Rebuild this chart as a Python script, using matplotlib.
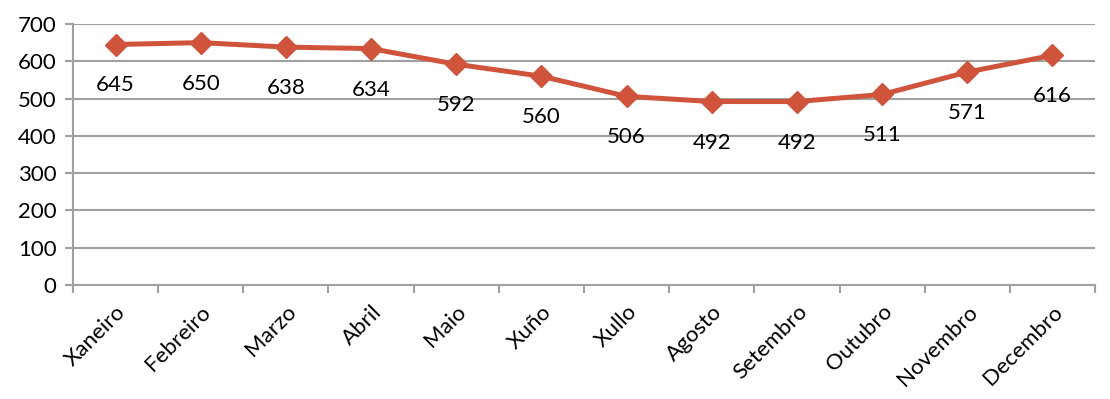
import matplotlib
matplotlib.use("Agg")
import matplotlib.pyplot as plt
import numpy as np

months = ["Xaneiro", "Febreiro", "Marzo", "Abril", "Maio", "Xuño", "Xullo",
          "Agosto", "Setembro", "Outubro", "Novembro", "Decembro"]
values = [645, 650, 638, 634, 592, 560, 506, 492, 492, 511, 571, 616]
yticks = [0, 100, 200, 300, 400, 500, 600, 700]

plt.rcParams['font.family'] = ['Lato', 'DejaVu Sans']
fig = plt.figure(figsize=(11.1, 3.99), dpi=100)
ax = fig.add_axes([73/1110, 1-285/399, (1095-73)/1110, (285-24)/399])

color = '#D0543C'
grid = '#A0A0A0'
fs = 16
x = np.arange(len(months))
ax.plot(x, values, color=color, lw=3.6, marker='D', markersize=11, zorder=3)
for xi, v in zip(x, values):
    ax.annotate(str(v), (xi, v), xytext=(0, -29.5), textcoords='offset points',
                ha='center', va='center', fontsize=fs, color='black')

ax.set_xlim(-0.5, len(months) - 0.5)
ax.set_ylim(0, 700)
ax.set_yticks(yticks)
ax.set_yticklabels([str(t) for t in yticks], fontsize=fs)
ax.yaxis.grid(True, color=grid, lw=1.5)
ax.set_axisbelow(True)
ax.tick_params(axis='y', length=6, width=1.5, color=grid, pad=6)

ax.set_xticks(x)
ax.set_xticklabels(months, rotation=45, ha='right', rotation_mode='anchor', fontsize=fs)
ax.tick_params(axis='x', which='major', length=0, pad=12)
ax.set_xticks(np.arange(-0.5, len(months)), minor=True)
ax.tick_params(axis='x', which='minor', length=6, width=1.5, color=grid)

for s in ['top', 'right']:
    ax.spines[s].set_visible(False)
for s in ['left', 'bottom']:
    ax.spines[s].set_color(grid)
    ax.spines[s].set_linewidth(1.5)

fig.savefig('out.png', dpi=100)
